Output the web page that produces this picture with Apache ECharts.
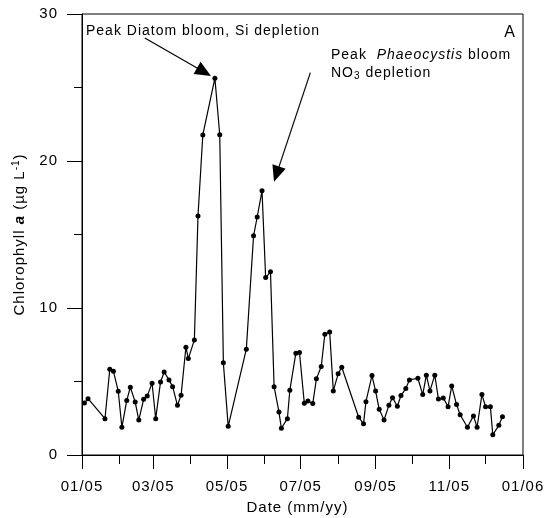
<!DOCTYPE html>
<html><head><meta charset="utf-8">
<script src="https://cdn.jsdelivr.net/npm/echarts@6/dist/echarts.min.js"></script>
<style>html,body{margin:0;padding:0;background:#fff}#c{width:546px;height:518px}</style>
</head><body><div id="c"></div>
<script>
// ---- data ----
const sampleDates = [
  '2005-01-03','2005-01-06','2005-01-20','2005-01-24','2005-01-27','2005-01-31','2005-02-03','2005-02-07',
  '2005-02-10','2005-02-14','2005-02-17','2005-02-21','2005-02-24','2005-02-28','2005-03-03','2005-03-07',
  '2005-03-10','2005-03-14','2005-03-17','2005-03-21','2005-03-24','2005-03-28','2005-03-30','2005-04-04',
  '2005-04-07','2005-04-11','2005-04-21','2005-04-25','2005-04-28','2005-05-02','2005-05-17','2005-05-23',
  '2005-05-26','2005-05-30','2005-06-02','2005-06-06','2005-06-09','2005-06-13','2005-06-15','2005-06-20',
  '2005-06-22','2005-06-27','2005-06-30','2005-07-04','2005-07-07','2005-07-11','2005-07-14','2005-07-18',
  '2005-07-21','2005-07-25','2005-07-28','2005-08-01','2005-08-04','2005-08-18','2005-08-22','2005-08-24',
  '2005-08-29','2005-09-01','2005-09-04','2005-09-08','2005-09-12','2005-09-15','2005-09-19','2005-09-22',
  '2005-09-26','2005-09-29','2005-10-06','2005-10-10','2005-10-13','2005-10-16','2005-10-20','2005-10-23',
  '2005-10-27','2005-10-31','2005-11-03','2005-11-07','2005-11-10','2005-11-16','2005-11-21','2005-11-24',
  '2005-11-28','2005-12-01','2005-12-05','2005-12-07','2005-12-12','2005-12-15'
];
const chlorophyll = [
  3.54, 3.83, 2.47, 5.83, 5.70, 4.34, 1.88, 3.70,
  4.61, 3.61, 2.38, 3.79, 4.02, 4.88, 2.47, 4.97,
  5.65, 5.11, 4.65, 3.38, 4.06, 7.33, 6.56, 7.83,
  16.26, 21.77, 25.63, 21.79, 6.27, 1.95, 7.20, 14.91,
  16.19, 17.97, 12.07, 12.46, 4.65, 2.93, 1.82, 2.47,
  4.40, 6.93, 6.97, 3.52, 3.68, 3.50, 5.18, 6.02,
  8.22, 8.36, 4.36, 5.52, 5.97, 2.57, 2.12, 3.63,
  5.40, 4.35, 3.11, 2.38, 3.38, 3.90, 3.32, 4.04,
  4.52, 5.11, 5.22, 4.11, 5.43, 4.36, 5.43, 3.81,
  3.88, 3.29, 4.70, 3.43, 2.74, 1.89, 2.66, 1.89,
  4.11, 3.29, 3.29, 1.38, 2.02, 2.61
];
const majorTickDates = ['2005-01-01','2005-03-01','2005-05-01','2005-07-01','2005-09-01','2005-11-01','2006-01-01'];
const majorTickLabels = ['01/05','03/05','05/05','07/05','09/05','11/05','01/06'];
const monthTickDates = ['2005-01-01','2005-02-01','2005-03-01','2005-04-01','2005-05-01','2005-06-01','2005-07-01',
  '2005-08-01','2005-09-01','2005-10-01','2005-11-01','2005-12-01','2006-01-01'];
const yTickValues = [0, 10, 20, 30];
// annotation arrows: [startDate, startValue, headDate, headValue]
const arrowDiatom = ['2005-02-22', 28.37, '2005-04-12', 26.06];
const arrowPhaeo = ['2005-07-09', 26.01, '2005-06-11', 19.11];

// ---- helpers ----
const FONT = 'Liberation Sans';
const LS = 1;
function ts(s){ const p = s.split('-').map(Number); return new Date(p[0], p[1]-1, p[2]).getTime(); }
// letter-spaced text, as in the reference
const mCanvas = document.createElement('canvas');
const mctx = mCanvas.getContext('2d');
echarts.setPlatformAPI({
  measureText: function(text, font){
    mctx.font = font;
    const m = mctx.measureText(text || '');
    return { width: m.width + LS * (text ? text.length : 0) };
  }
});
const origFillText = CanvasRenderingContext2D.prototype.fillText;
CanvasRenderingContext2D.prototype.fillText = function(t, x, y, mw){
  try { this.letterSpacing = LS + 'px'; } catch(e) {}
  return mw === undefined ? origFillText.call(this, t, x, y) : origFillText.call(this, t, x, y, mw);
};

const dom = document.getElementById('c');
const chart = echarts.init(dom, null, {renderer: 'canvas'});

const majorTs = majorTickDates.map(ts);
const monthTs = monthTickDates.map(ts);
const xMin = ts('2005-01-01'), xMax = ts('2006-01-01');

const option = {
  animation: false,
  backgroundColor: '#fff',
  textStyle: {fontFamily: FONT, color: '#000'},
  grid: {left: 82, right: 23, top: 14, bottom: 63, outerBoundsMode: 'none', containLabel: false,
    show: true, borderColor: '#000', borderWidth: 1, backgroundColor: 'transparent'},
  xAxis: [{
    type: 'value', min: xMin, max: xMax, position: 'bottom', scale: true,
    name: 'Date (mm/yy)', nameLocation: 'middle', nameGap: 45,
    nameTextStyle: {fontSize: 15, color: '#000', fontFamily: FONT, padding: [0, 10, 0, 0]},
    axisLine: {show: true, onZero: false, lineStyle: {color: '#000', width: 1}},
    axisTick: {show: true, length: 14, customValues: majorTs, lineStyle: {color: '#000', width: 1}},
    axisLabel: {show: true, customValues: majorTs, fontSize: 15, color: '#000', margin: 24, fontFamily: FONT, hideOverlap: false,
      formatter: function(v){
        let best = 0, bd = Infinity;
        majorTs.forEach(function(t, i){ const d = Math.abs(t - v); if (d < bd) { bd = d; best = i; } });
        return majorTickLabels[best];
      }},
    splitLine: {show: false}
  }, {
    type: 'value', min: xMin, max: xMax, position: 'bottom', gridIndex: 0, scale: true,
    axisLine: {show: false},
    axisTick: {show: true, length: 9, customValues: monthTs, lineStyle: {color: '#000', width: 1}},
    axisLabel: {show: false},
    splitLine: {show: false}
  }],
  yAxis: {
    type: 'value', min: 0, max: 30, interval: 10,
    axisLine: {show: true, lineStyle: {color: '#000', width: 1}},
    axisTick: {show: true, length: 15, lineStyle: {color: '#000', width: 1}},
    minorTick: {show: true, splitNumber: 2, length: 8, lineStyle: {color: '#000', width: 1}},
    axisLabel: {fontSize: 15, color: '#000', margin: 24, fontFamily: FONT,
      formatter: function(v){ return yTickValues.indexOf(v) >= 0 ? String(v) : ''; }},
    splitLine: {show: false}, minorSplitLine: {show: false},
    name: 'Chlorophyll {b|a} (µg L{s|-1})', nameLocation: 'middle', nameGap: 48, nameRotate: 90,
    nameTextStyle: {fontSize: 15, color: '#000', fontFamily: FONT, lineHeight: 18,
      rich: {
        b: {fontSize: 15, fontWeight: 'bold', fontStyle: 'italic', fontFamily: FONT, color: '#000', lineHeight: 18},
        s: {fontSize: 10, fontFamily: FONT, color: '#000', verticalAlign: 'top', lineHeight: 12}
      }}
  },
  series: [{
    type: 'line', xAxisIndex: 0,
    data: sampleDates.map(function(d, i){ return [ts(d), chlorophyll[i]]; }),
    symbol: 'circle', symbolSize: 5, showSymbol: true,
    itemStyle: {color: '#000'},
    lineStyle: {color: '#000', width: 1.2},
    markLine: {
      silent: true, symbol: ['none', 'triangle'], symbolSize: [14, 16],
      label: {show: false},
      lineStyle: {color: '#000', width: 1.2, type: 'solid'},
      data: [arrowDiatom, arrowPhaeo].map(function(a){
        return [{coord: [ts(a[0]), a[1]]}, {coord: [ts(a[2]), a[3]]}];
      })
    }
  }],
  graphic: [
    {type: 'text', x: 86, y: 31, silent: true,
      style: {text: 'Peak Diatom bloom, Si depletion', fontSize: 14, fontFamily: FONT, fill: '#000', textVerticalAlign: 'middle'}},
    {type: 'text', x: 510, y: 33, silent: true,
      style: {text: 'A', fontSize: 16, fontFamily: FONT, fill: '#000', textAlign: 'center', textVerticalAlign: 'middle'}},
    {type: 'text', x: 331, y: 55, silent: true,
      style: {text: 'Peak  {i|Phaeocystis} bloom', fontSize: 14, fontFamily: FONT, fill: '#000', textVerticalAlign: 'middle',
        rich: {i: {fontSize: 14, fontStyle: 'italic', fontFamily: FONT, fill: '#000'}}}},
    {type: 'text', x: 331, y: 73, silent: true,
      style: {text: 'NO{sub|3} depletion', fontSize: 14, fontFamily: FONT, fill: '#000', textVerticalAlign: 'middle', lineHeight: 18,
        rich: {sub: {fontSize: 10, fontFamily: FONT, fill: '#000', verticalAlign: 'bottom', lineHeight: 12}}}}
  ]
};
chart.setOption(option);
</script>
</body></html>
